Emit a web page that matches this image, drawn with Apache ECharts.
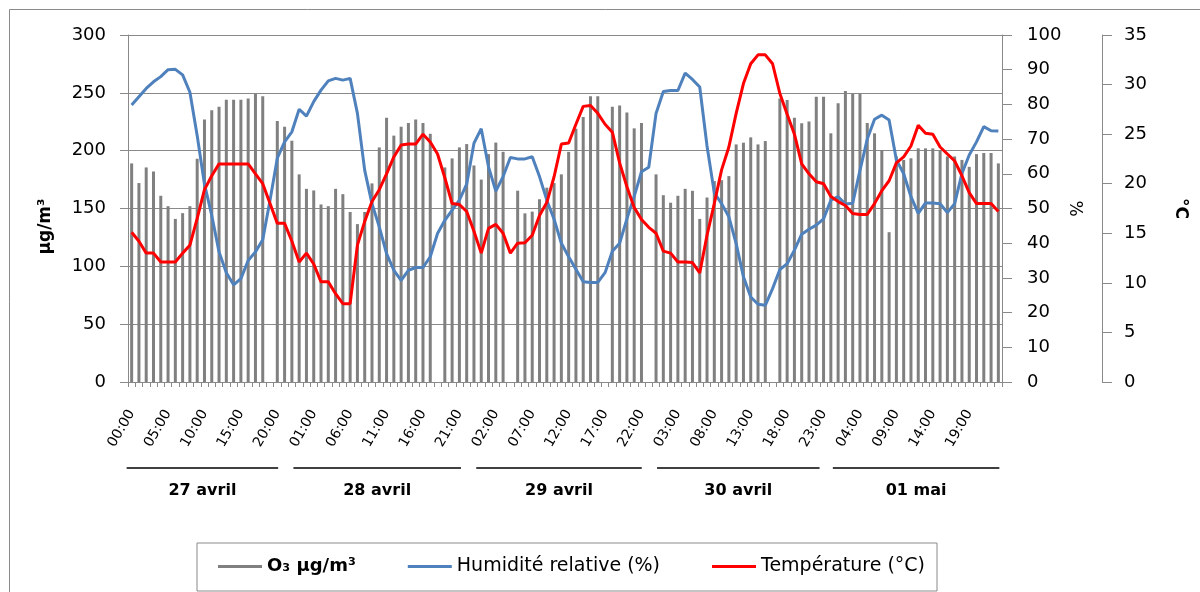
<!DOCTYPE html>
<html><head><meta charset="utf-8">
<script src="https://cdn.jsdelivr.net/npm/echarts@6/dist/echarts.min.js"></script>
<style>html,body{margin:0;padding:0;background:#fff}#c{width:1200px;height:592px}</style>
</head><body><div id="c"></div>
<script>
const days = ['27 avril', '28 avril', '29 avril', '30 avril', '01 mai'];
const hours = ['00:00','01:00','02:00','03:00','04:00','05:00','06:00','07:00','08:00','09:00','10:00','11:00',
               '12:00','13:00','14:00','15:00','16:00','17:00','18:00','19:00','20:00','21:00','22:00','23:00'];

// O3 (µg/m³), hourly, 27 avril -> 01 mai
const o3 = [
  189, 172, 185.5, 182, 161, 152, 141, 146, 152, 193, 227, 235, 238, 244, 244, 244, 245, 249, 247, null, 225.6, 220.7, 208.6, 179.5,
  167, 165.6, 153.5, 152, 167, 162.4, 147, 136.5, 147, 171.7, 202.8, 228.5, 213, 220.7, 224, 227, 224, 214.6, null, 185.5, 193.3, 202.8, 205.7, 187.2,
  175, 197, 207, 199, null, 165.4, 145.8, 147.3, 158, 168, 172, 179.5, 199, 219, 229, 247, 247, null, 238, 239, 233, 219.3, 224, null,
  179.5, 161.5, 155, 161, 167, 165.3, 141, 159.5, 173.7, 174.5, 178, 205.4, 206.9, 211.5, 205.4, 208.3, null, 245, 243.8, 228.5, 223.6, 225.3, 246.7, 246.7,
  215, 241, 251.6, 249, 249, 224, 215, 200.5, 129.5, 195, 192, 193.4, 202, 202, 202, 200, 195, 195, 192, 186, 197, 198, 198, 189
];
// Humidité relative (%)
const humidity = [
  79.8, 82.2, 84.6, 86.5, 88, 90, 90.1, 88.5, 83.5, 71, 57, 48, 37.5, 31.5, 28, 29.8, 35, 37.5, 41, 52.4, 64.5, 69.2, 72.1, 78.6,
  76.6, 80.8, 84.1, 86.8, 87.5, 87, 87.5, 77.4, 61, 51.4, 44.7, 37, 32.2, 29.3, 32.2, 33, 33, 36.1, 42.8, 46.6, 49.5, 52.4, 57, 68.8,
  73, 62, 55, 59.2, 64.7, 64.3, 64.3, 64.9, 59.2, 52.4, 46.9, 40, 36.1, 32.5, 28.9, 28.7, 28.7, 31.5, 37.7, 40, 47, 53.5, 60.6, 61.9,
  77.4, 83.7, 84, 84, 89, 87.2, 85, 68, 54.5, 51.4, 47.6, 39.9, 30.3, 24.5, 22.4, 22.1, 26.9, 32.4, 34.1, 38, 42.6, 44, 45.2, 47,
  52.4, 53.4, 51.3, 51.5, 61, 70, 75.7, 76.9, 75.5, 64, 60, 53.4, 48.6, 51.6, 51.6, 51.4, 48.8, 51.4, 60.1, 65.4, 69.2, 73.6, 72.4, 72.3
];
// Température (°C)
const temperature = [
  15.1, 14.2, 13, 13, 12.1, 12.1, 12.1, 13, 13.8, 16.5, 19.4, 20.8, 22, 22, 22, 22, 22, 21, 20, 18, 16, 16, 14.2, 12.1,
  13, 11.9, 10.1, 10.1, 8.9, 7.9, 7.9, 13.8, 16.2, 18.2, 19.4, 21, 22.7, 23.9, 24, 24, 25, 24.2, 23, 20.6, 18, 17.9, 17.2, 15.2,
  13, 15.5, 15.9, 15, 13, 14, 14.05, 14.8, 16.8, 18.1, 20.7, 24, 24.1, 26, 27.8, 27.9, 27.1, 26, 25.2, 22.1, 19.7, 17.6, 16.4, 15.6,
  15, 13.2, 13, 12.1, 12.1, 12.05, 11, 14.8, 18, 21.4, 23.7, 27.1, 30.1, 32.1, 33, 33, 32.1, 29.1, 27, 25, 22, 21, 20.2, 20,
  18.7, 18.2, 17.8, 17, 16.9, 16.9, 18, 19.3, 20.3, 22.1, 22.7, 23.8, 25.9, 25.1, 25, 23.7, 23, 22.3, 20.8, 19.1, 18, 18, 18, 17.2
];
const seriesNames = ['O₃ µg/m³', 'Humidité relative (%)', 'Température (°C)'];

const categories = [];
days.forEach(function () { hours.forEach(function (h) { categories.push(h); }); });

const FONT = '"DejaVu Sans", sans-serif';
const GRID = '#898989';
const chart = echarts.init(document.getElementById('c'), null, { renderer: 'canvas' });

chart.setOption({
  animation: false,
  backgroundColor: '#fff',
  textStyle: { fontFamily: FONT, color: '#000' },
  grid: { left: 128, right: 198, top: 35, bottom: 210, containLabel: false },
  legend: {
    left: 197, top: 543,
    padding: [14, 12, 15, 21],
    itemGap: 52,
    itemWidth: 44, itemHeight: 3,
    icon: 'rect',
    borderColor: GRID, borderWidth: 1,
    textStyle: {
      fontFamily: FONT, fontSize: 19, color: '#000',
      rich: { b: { fontFamily: FONT, fontSize: 18, fontWeight: 'bold', color: '#000' } }
    },
    formatter: function (n) { return n === seriesNames[0] ? '{b|' + n + '}' : n; },
    data: seriesNames
  },
  xAxis: {
    type: 'category',
    data: categories,
    boundaryGap: true,
    axisLine: { show: true, lineStyle: { color: GRID, width: 1 } },
    axisTick: { show: true, interval: 0, length: 5, lineStyle: { color: GRID } },
    axisLabel: { interval: 4, rotate: 60, margin: 29, fontSize: 14, color: '#000', fontFamily: FONT },
    splitLine: { show: false }
  },
  yAxis: [
    {
      type: 'value', min: 0, max: 300, interval: 50, position: 'left',
      name: 'µg/m³', nameLocation: 'middle', nameGap: 74, nameRotate: 90, nameMoveOverlap: false,
      nameTextStyle: { fontFamily: FONT, fontSize: 17, fontWeight: 'bold', color: '#000', padding: [0, 36, 0, 0] },
      axisLine: { show: true, lineStyle: { color: GRID } },
      axisTick: { show: true, length: 8, lineStyle: { color: GRID } },
      axisLabel: { margin: 22, fontSize: 18, color: '#000', fontFamily: FONT },
      splitLine: { show: true, lineStyle: { color: GRID, width: 1 } }
    },
    {
      type: 'value', min: 0, max: 100, interval: 10, position: 'right',
      name: '%', nameLocation: 'middle', nameGap: 64, nameRotate: -90, nameMoveOverlap: false,
      nameTextStyle: { fontFamily: FONT, fontSize: 17, color: '#000' },
      axisLine: { show: true, lineStyle: { color: GRID } },
      axisTick: { show: true, length: 10, lineStyle: { color: GRID } },
      axisLabel: { margin: 25, fontSize: 18, color: '#000', fontFamily: FONT },
      splitLine: { show: false }
    },
    {
      type: 'value', min: 0, max: 35, interval: 5, position: 'right', offset: 100,
      name: '°C', nameLocation: 'middle', nameGap: 70, nameRotate: -90, nameMoveOverlap: false,
      nameTextStyle: { fontFamily: FONT, fontSize: 17, fontWeight: 'bold', color: '#000' },
      axisLine: { show: true, lineStyle: { color: GRID } },
      axisTick: { show: true, length: 10, lineStyle: { color: GRID } },
      axisLabel: { margin: 22, fontSize: 18, color: '#000', fontFamily: FONT },
      splitLine: { show: false }
    }
  ],
  series: [
    {
      name: seriesNames[0], type: 'bar', yAxisIndex: 0, data: o3,
      barWidth: 3, itemStyle: { color: '#808080' }
    },
    {
      name: seriesNames[1], type: 'line', yAxisIndex: 1, data: humidity,
      showSymbol: false, symbol: 'none', connectNulls: true,
      lineStyle: { color: '#4F81BD', width: 3 }, itemStyle: { color: '#4F81BD' }
    },
    {
      name: seriesNames[2], type: 'line', yAxisIndex: 2, data: temperature,
      showSymbol: false, symbol: 'none', connectNulls: true,
      lineStyle: { color: '#FF0000', width: 3 }, itemStyle: { color: '#FF0000' }
    }
  ]
});

// Day group separators and labels under the hour labels
const startShift = [-5, -13, -5, 1, 2];
const endShift = [-21, -13, -7, -4, 1];
const graphics = [{
  type: 'rect', shape: { x: 9.5, y: 9.5, width: 1400, height: 800 },
  style: { fill: 'none', stroke: '#8a8a8a', lineWidth: 1 }, silent: true
}];
days.forEach(function (d, k) {
  const x0 = chart.convertToPixel({ xAxisIndex: 0 }, 24 * k);
  const x1 = chart.convertToPixel({ xAxisIndex: 0 }, 24 * k + 23);
  const a = x0 + startShift[k], b = x1 + endShift[k];
  graphics.push({
    type: 'line', shape: { x1: a, y1: 468, x2: b, y2: 468 },
    style: { stroke: '#000', lineWidth: 1.5 }, silent: true
  });
  graphics.push({
    type: 'text', x: (a + b) / 2, y: 491,
    style: { text: d, fontFamily: FONT, fontSize: 16, fontWeight: 'bold', fill: '#000',
             textAlign: 'center', textVerticalAlign: 'middle' }, silent: true
  });
});
chart.setOption({ graphic: graphics });
</script>
</body></html>
